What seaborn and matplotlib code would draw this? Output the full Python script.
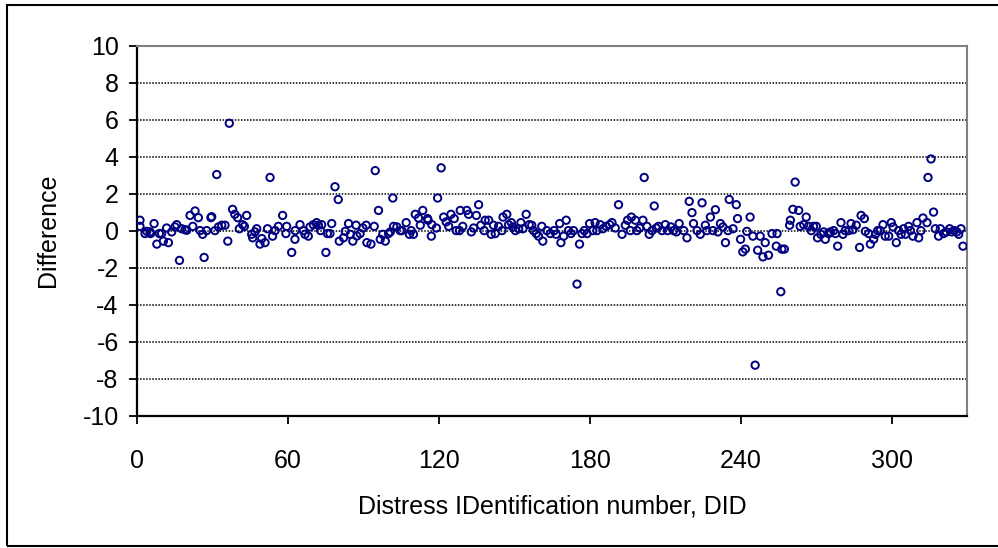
import matplotlib
matplotlib.use("Agg")
import matplotlib.pyplot as plt
from matplotlib.patches import Rectangle
import seaborn as sns
import pandas as pd

did = [
    1.3, 1.3, 3.3, 4.0, 5.3, 5.5, 6.9, 8.0, 9.0, 9.9, 10.6, 11.9, 12.6, 13.9, 15.2, 15.9, 17.0, 17.9, 19.2, 19.9,
    21.2, 22.3, 23.2, 24.5, 25.2, 26.2, 26.8, 27.8, 29.5, 29.8, 31.1, 31.8, 32.5, 33.8, 35.1, 36.2, 36.8, 38.1, 39.0, 40.1,
    40.8, 42.1, 42.8, 43.7, 45.7, 46.1, 47.0, 47.7, 49.0, 49.7, 51.0, 52.0, 53.0, 54.0, 55.0, 56.3, 58.0, 59.3, 59.6, 61.6,
    62.9, 63.0, 64.9, 66.2, 66.9, 68.2, 68.9, 70.2, 71.5, 72.2, 73.5, 73.1, 75.2, 75.8, 76.8, 77.5, 78.8, 80.1, 80.5,
    82.2, 82.9, 84.2, 84.9, 85.9, 87.2, 87.5, 88.8, 89.9, 91.2, 91.5, 93.1, 94.4, 94.8, 96.1, 96.8, 97.8, 98.8, 100.1, 100.8,
    101.8, 102.1, 103.4, 104.7, 105.4, 107.1, 108.4, 109.1, 110.0, 110.7, 112.0, 112.7, 113.7, 115.6, 115.8, 117.3, 117.1, 119.1, 119.6, 121.0,
    122.0, 123.0, 124.0, 124.9, 126.2, 127.0, 128.3, 128.6, 129.6, 131.2, 131.9, 133.0, 133.9, 135.0, 135.9, 136.8, 138.1, 138.5, 139.9, 140.9,
    141.8, 142.5, 143.8, 145.2, 145.6, 147.1, 147.8, 148.9, 149.5, 150.5, 151.8, 152.7, 153.5, 154.8, 156.0,
    157.0, 157.7, 158.8, 159.7, 161.0, 161.4, 163.0, 164.4, 165.9, 166.7, 168.1, 168.6, 169.7, 170.7, 171.6, 172.6, 173.6, 175.0, 176.0, 177.0,
    177.9, 179.0, 180.0, 181.3, 182.2, 182.9, 184.2, 185.3, 186.6, 188.0, 188.9, 190.2, 191.5, 192.9, 194.2, 195.1, 196.2, 196.6, 198.2, 198.8,
    199.9, 201.2, 201.7, 202.8, 203.7, 204.8, 205.7, 206.5, 207.4, 208.8, 210.1, 211.0, 212.3, 213.4, 214.5, 215.6, 217.4, 218.7, 219.6, 220.7,
    221.3, 222.7, 224.0, 224.7, 226.0, 226.6, 228.0, 229.0, 230.0, 231.0, 232.0, 233.0, 234.0, 235.0, 235.5, 237.0, 238.3, 238.8, 240.0, 240.9,
    241.9, 242.5, 243.8, 244.9, 245.8, 246.8, 247.8, 248.9, 249.8, 251.1, 252.5, 254.2, 254.5, 256.0, 256.4, 257.4, 259.5, 259.8, 260.8, 261.7,
    263.1, 263.7, 265.1, 266.1, 267.0, 268.1, 269.0, 270.1, 270.6, 271.9, 273.0, 273.7, 275.0, 275.7, 277.0, 277.7, 278.6, 279.9, 280.7, 281.6,
    283.0, 283.9, 284.7, 286.0, 287.3, 287.9, 289.2, 289.6, 290.9, 291.6, 292.9, 293.6, 294.5, 295.5, 296.6, 297.5, 298.9, 299.9, 300.6, 301.9,
    302.8, 303.8, 304.8, 305.5, 306.8, 307.5, 308.5, 310.1, 310.8, 311.7, 312.5, 314.1, 314.5, 315.7, 316.7, 317.4, 318.7, 319.4, 320.7, 321.8,
    323.1, 324.0, 325.0, 326.0, 326.7, 327.6, 328.4,
]

difference = [
    0.56, 0.23, -0.16, -0.04, -0.07, -0.16, 0.38, -0.73, -0.16, -0.16, -0.57, 0.14, -0.65, -0.07, 0.20, 0.32, -1.61, 0.10, 0.05, 0.02,
    0.82, 0.23, 1.06, 0.70, 0.00, -0.20, -1.45, 0.00, 0.70, 0.75, 0.00, 3.03, 0.20, 0.29, 0.29, -0.57, 5.80, 1.15, 0.88, 0.70,
    0.10, 0.32, 0.23, 0.82, -0.20, -0.39, -0.07, 0.10, -0.73, -0.43, -0.65, 0.10, 2.87, -0.30, 0.00, 0.23, 0.82, -0.16, 0.23, -1.18,
    -0.47, 0.00, 0.32, 0.00, -0.20, -0.30, 0.20, 0.32, 0.43, 0.29, 0.32, 0.00, -1.18, -0.16, -0.16, 0.38, 2.37, 1.68, -0.57,
    -0.39, -0.04, 0.38, -0.20, -0.57, 0.29, -0.29, -0.16, 0.14, 0.29, -0.65, -0.73, 0.23, 3.24, 1.09, -0.47, -0.20, -0.57, -0.16, -0.07,
    1.76, 0.23, 0.20, 0.00, 0.00, 0.43, -0.20, 0.00, -0.20, 0.88, 0.68, 0.29, 1.09, 0.65, 0.56, 0.32, -0.30, 0.14, 1.76, 3.39,
    0.73, 0.47, 0.23, 0.88, 0.65, 0.00, 0.00, 1.09, 0.23, 1.09, 0.88, -0.07, 0.14, 0.82, 1.40, 0.29, 0.00, 0.56, 0.56, -0.20,
    0.29, -0.16, 0.23, 0.00, 0.73, 0.88, 0.32, 0.43, 0.20, 0.00, 0.10, 0.43, 0.10, 0.88, 0.32,
    0.29, 0.00, -0.16, -0.30, 0.23, -0.57, 0.00, -0.16, 0.00, -0.20, 0.38, -0.65, -0.30, 0.56, 0.00, -0.16, 0.00, -2.89, -0.73, -0.16,
    0.00, -0.16, 0.38, 0.00, 0.43, 0.00, 0.32, 0.10, 0.23, 0.32, 0.43, 0.14, 1.40, -0.20, 0.29, 0.56, 0.00, 0.73, 0.56, 0.00,
    0.14, 0.56, 2.87, 0.23, -0.20, 0.00, 1.33, 0.14, 0.23, 0.00, 0.32, 0.00, 0.20, 0.00, -0.07, 0.38, 0.00, -0.39, 1.58, 0.97,
    0.38, 0.00, -0.20, 1.50, 0.29, 0.00, 0.73, 0.00, 1.13, -0.07, 0.38, 0.20, -0.65, 0.00, 1.68, 0.10, 1.40, 0.65, -0.47, -1.15,
    -1.00, -0.04, 0.73, -0.30, -7.27, -1.06, -0.30, -1.42, -0.65, -1.33, -0.16, -0.84, -0.16, -3.30, -1.00, -1.00, 0.29, 0.56, 1.15, 2.62,
    1.09, 0.23, 0.32, 0.73, 0.23, 0.00, 0.23, 0.23, -0.39, -0.20, -0.07, -0.47, -0.16, -0.07, 0.00, -0.16, -0.84, 0.43, -0.20, 0.00,
    0.00, 0.38, 0.05, 0.29, -0.91, 0.82, 0.65, -0.04, -0.16, -0.73, -0.47, -0.20, 0.00, 0.00, 0.32, -0.30, -0.30, 0.43, 0.20, -0.65,
    0.00, -0.20, 0.10, -0.20, 0.23, 0.00, -0.30, 0.43, -0.39, 0.00, 0.68, 0.43, 2.87, 3.87, 1.00, 0.10, -0.30, 0.10, -0.16, -0.07,
    0.10, -0.07, 0.00, -0.07, -0.20, 0.10, -0.84,
]

x_ticks = [0, 60, 120, 180, 240, 300]
y_ticks = [-10, -8, -6, -4, -2, 0, 2, 4, 6, 8, 10]
x_label = "Distress IDentification number, DID"
y_label = "Difference"

df = pd.DataFrame({"DID": did, "Difference": difference})

sns.set_theme(style="white")
plt.rcParams["font.family"] = ["Liberation Sans", "DejaVu Sans"]

W, H = 998, 548
fig = plt.figure(figsize=(W / 100, H / 100), dpi=100)
ax_left, ax_right, ax_top, ax_bottom = 136.7, 967.0, 45.5, 415.7
ax = fig.add_axes([ax_left / W, 1 - ax_bottom / H, (ax_right - ax_left) / W, (ax_bottom - ax_top) / H])

for yv in y_ticks[1:-1]:
    ax.axhline(yv, color="black", lw=1.1, linestyle=(0, (1, 1)), zorder=1)

sns.scatterplot(data=df, x="DID", y="Difference", ax=ax, marker="o", s=28,
                facecolor="none", edgecolor="#000080", linewidth=1.4, zorder=3, legend=False)

ax.set_xlim(0, 330)
ax.set_ylim(-10, 10)
ax.set_xticks(x_ticks)
ax.set_yticks(y_ticks)
ax.set_xticklabels([str(t) for t in x_ticks])
ax.set_yticklabels([str(t) for t in y_ticks])

ax.tick_params(axis="both", which="major", labelsize=18, direction="out", length=6,
               width=1.3, color="black", labelcolor="black")
ax.tick_params(axis="x", pad=18, bottom=True)
ax.tick_params(axis="y", pad=7, left=True)

for side in ["left", "bottom"]:
    ax.spines[side].set_color("black")
    ax.spines[side].set_linewidth(1.6)
for side in ["top", "right"]:
    ax.spines[side].set_color("#808080")
    ax.spines[side].set_linewidth(1.5)
    ax.spines[side].set_visible(True)

ax.set_xlabel(x_label, fontsize=18, color="black")
ax.set_ylabel(y_label, fontsize=18, color="black")
ax.xaxis.label.set_verticalalignment("center")
ax.xaxis.set_label_coords(0.5, (ax_bottom - 506.7) / (ax_bottom - ax_top))
ax.yaxis.label.set_verticalalignment("center")
ax.yaxis.label.set_horizontalalignment("center")
ax.yaxis.set_label_coords((48 - ax_left) / (ax_right - ax_left), 0.5)

fig.patches.append(Rectangle((7 / W, 1 - 546 / H), (1000 - 7) / W, (546 - 5) / H,
                             transform=fig.transFigure, fill=False, edgecolor="black", lw=1.5))

fig.savefig("out.png", dpi=100, facecolor="white")
